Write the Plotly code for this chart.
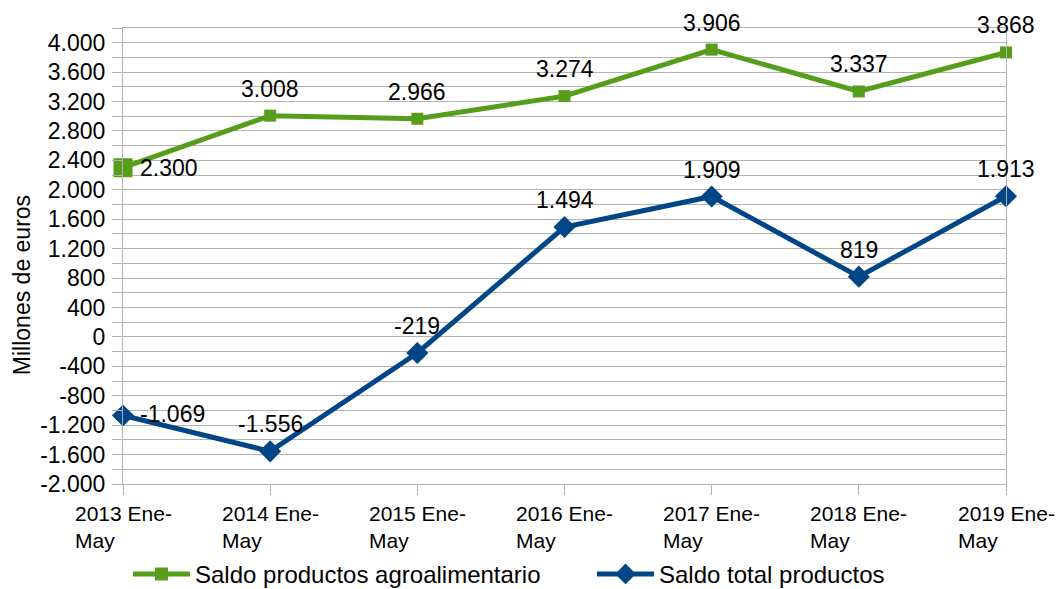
import plotly.graph_objects as go

categories = ["2013 Ene-May", "2014 Ene-May", "2015 Ene-May", "2016 Ene-May",
              "2017 Ene-May", "2018 Ene-May", "2019 Ene-May"]
agro = [2300, 3008, 2966, 3274, 3906, 3337, 3868]
total = [-1069, -1556, -219, 1494, 1909, 819, 1913]
agro_labels = ["2.300", "3.008", "2.966", "3.274", "3.906", "3.337", "3.868"]
total_labels = ["-1.069", "-1.556", "-219", "1.494", "1.909", "819", "1.913"]
tick_vals = list(range(-2000, 4001, 400))
tick_text = ["-2.000", "-1.600", "-1.200", "-800", "-400", "0", "400", "800",
             "1.200", "1.600", "2.000", "2.400", "2.800", "3.200", "3.600", "4.000"]

GREEN = "#579d1c"
BLUE = "#004586"
GRID = "#b3b3b3"
FONT = "Liberation Sans"
BLACK = "#000000"

xs = list(range(len(categories)))

fig = go.Figure()
fig.add_trace(go.Scatter(
    x=xs, y=agro, name="Saldo productos agroalimentario",
    mode="lines+markers", legend="legend",
    line=dict(color=GREEN, width=5),
    marker=dict(symbol="square", size=[19, 12, 12, 12, 12, 12, 12], color=GREEN,
                line=dict(width=0), opacity=1),
    cliponaxis=False,
))
fig.add_trace(go.Scatter(
    x=xs, y=total, name="Saldo total productos",
    mode="lines+markers", legend="legend2",
    line=dict(color=BLUE, width=5),
    marker=dict(symbol="diamond", size=17, color=BLUE, line=dict(width=0), opacity=1),
    cliponaxis=False,
))

# data labels
for series, labels in ((agro, agro_labels), (total, total_labels)):
    for i, (v, t) in enumerate(zip(series, labels)):
        if i == 0:
            fig.add_annotation(x=xs[i], y=v, xref="x", yref="y", text=t,
                               showarrow=False, xanchor="left", yanchor="middle",
                               xshift=15, yshift=(0 if series is agro else 2),
                               font=dict(family=FONT, size=23, color=BLACK))
        else:
            fig.add_annotation(x=xs[i], y=v, xref="x", yref="y", text=t,
                               showarrow=False, xanchor="center", yanchor="middle",
                               yshift=27, font=dict(family=FONT, size=23, color=BLACK))

# category labels (first line centred on tick, second line left-aligned)
for i, c in enumerate(categories):
    first, second = c.rsplit("-", 1)
    fig.add_annotation(
        x=xs[i], y=0, xref="x", yref="paper", yanchor="top", xanchor="center",
        yshift=-16, align="left", showarrow=False,
        text=f"{first}-<br>{second}",
        font=dict(family=FONT, size=21, color=BLACK),
    )

fig.add_annotation(
    x=-0.1144, y=0.436, xref="paper", yref="paper", showarrow=False,
    xanchor="center", yanchor="middle",
    text="Millones de euros", textangle=-90,
    font=dict(family=FONT, size=23, color=BLACK),
)

legend_common = dict(orientation="h", xref="container", yref="container",
                     xanchor="left", y=0.025, yanchor="middle",
                     bgcolor="rgba(0,0,0,0)", itemwidth=57,
                     font=dict(family=FONT, size=24, color=BLACK))

fig.update_layout(
    width=1056, height=589,
    margin=dict(l=123, r=50, t=28, b=105, autoexpand=False),
    paper_bgcolor="white", plot_bgcolor="white",
    font=dict(family=FONT, size=23, color=BLACK),
    showlegend=True,
    legend=dict(x=0.1212, **legend_common),
    legend2=dict(x=0.5606, **legend_common),
    xaxis=dict(range=[0, 6], tickvals=xs, showticklabels=False,
               ticks="outside", ticklen=10, tickcolor=GRID,
               showgrid=False, showline=True, linecolor=GRID, linewidth=1,
               mirror=True, zeroline=False, fixedrange=True),
    yaxis=dict(range=[-2000, 4200], tickvals=tick_vals, ticktext=tick_text,
               ticks="outside", ticklen=10, tickcolor=GRID,
               showgrid=True, gridcolor=GRID, gridwidth=1,
               minor=dict(dtick=200, tick0=0, showgrid=True, gridcolor=GRID,
                          ticks="outside", ticklen=10, tickcolor=GRID),
               showline=True, linecolor=GRID, linewidth=1, mirror=True,
               zeroline=False, ticklabelstandoff=2,
               tickfont=dict(family=FONT, size=23, color=BLACK),
               fixedrange=True),
)

fig.write_html("out.html", config={"displayModeBar": False},
               post_script="document.body.style.margin='0';document.body.style.overflow='hidden';")
